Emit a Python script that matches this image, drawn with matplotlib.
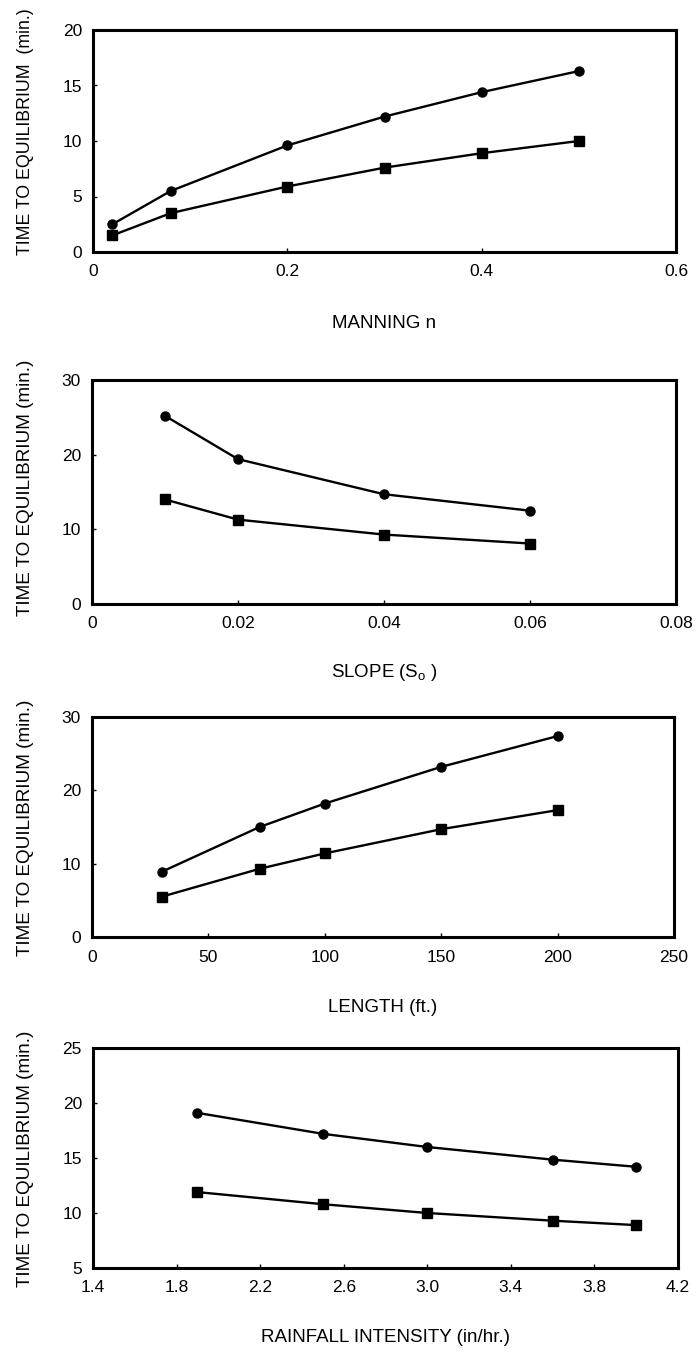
import numpy as np
import matplotlib
matplotlib.use('Agg')
import matplotlib.pyplot as plt

plt.rcParams['font.family'] = ['Liberation Sans', 'DejaVu Sans']

# manning n
manning_x   = [0.02, 0.08, 0.2, 0.3, 0.4, 0.5]
manning_c   = [2.5, 5.5, 9.6, 12.2, 14.4, 16.3]
manning_s   = [1.5, 3.5, 5.9, 7.6, 8.9, 10.0]

# slope
slope_x     = [0.01, 0.02, 0.04, 0.06]
slope_c     = [25.2, 19.4, 14.7, 12.5]
slope_s     = [14.0, 11.3, 9.3, 8.1]

# length
length_x    = [30, 72, 100, 150, 200]
length_c    = [8.9, 15.0, 18.2, 23.2, 27.4]
length_s    = [5.5, 9.3, 11.4, 14.7, 17.3]

# rainfall intensity
rain_x      = [1.9, 2.5, 3.0, 3.6, 4.0]
rain_c      = [19.1, 17.2, 16.0, 14.85, 14.2]
rain_s      = [11.9, 10.8, 10.0, 9.3, 8.9]

xlabels = ['MANNING n', 'SLOPE (S$_\\mathregular{o}$ )', 'LENGTH (ft.)', 'RAINFALL INTENSITY (in/hr.)']
ylabels = ['TIME TO EQUILIBRIUM  (min.)'] + ['TIME TO EQUILIBRIUM (min.)'] * 3

xlims   = [(0, 0.6), (0, 0.08), (0, 250), (1.4, 4.2)]
xticks  = [[0, 0.2, 0.4, 0.6], [0, 0.02, 0.04, 0.06, 0.08], [0, 50, 100, 150, 200, 250],
           [1.4, 1.8, 2.2, 2.6, 3.0, 3.4, 3.8, 4.2]]
xtlabs  = [['0', '0.2', '0.4', '0.6'], ['0', '0.02', '0.04', '0.06', '0.08'],
           ['0', '50', '100', '150', '200', '250'],
           ['1.4', '1.8', '2.2', '2.6', '3.0', '3.4', '3.8', '4.2']]
ylims   = [(0, 20), (0, 30), (0, 30), (5, 25)]
yticks  = [[0, 5, 10, 15, 20], [0, 10, 20, 30], [0, 10, 20, 30], [5, 10, 15, 20, 25]]

data = [(manning_x, manning_c, manning_s), (slope_x, slope_c, slope_s),
        (length_x, length_c, length_s), (rain_x, rain_c, rain_s)]

# axes boxes in pixels: left, right, top, bottom
W, H = 696, 1354
boxes  = [(93, 676, 30, 252), (92, 676, 380, 604), (92, 674, 717, 937), (93, 678, 1048, 1268)]
xlab_y = [324, 672, 1008, 1338]
ylab_y = [132, 488, 828, 1159]
ylab_fs = [12.8, 13.6, 13.6, 13.6]

fig = plt.figure(figsize=(W / 100, H / 100), dpi=100)
for i in range(4):
	l, r, t, b = boxes[i]
	ax = fig.add_axes([l / W, 1 - b / H, (r - l) / W, (b - t) / H])
	x, yc, ys = data[i]
	ax.plot(x, yc, 'k-', marker='o', ms=6.5, lw=1.7)
	ax.plot(x, ys, 'k-', marker='s', ms=6.5, lw=1.7)
	ax.set_xlim(*xlims[i])
	ax.set_ylim(*ylims[i])
	ax.set_xticks(xticks[i])
	ax.set_xticklabels(xtlabs[i])
	ax.set_yticks(yticks[i])
	ax.tick_params(direction='in', length=3, width=1, labelsize=12.5)
	ax.tick_params(axis='x', pad=9)
	ax.tick_params(axis='y', pad=8)
	for sp in ax.spines.values():
		sp.set_linewidth(2.2)
	fig.text(26 / W, 1 - ylab_y[i] / H, ylabels[i], rotation=90, ha='center', va='center',
	         fontsize=ylab_fs[i])
	fig.text(((l + r) / 2) / W, 1 - xlab_y[i] / H, xlabels[i], ha='center', va='center', fontsize=13.5)

fig.savefig('out.png', dpi=100)
